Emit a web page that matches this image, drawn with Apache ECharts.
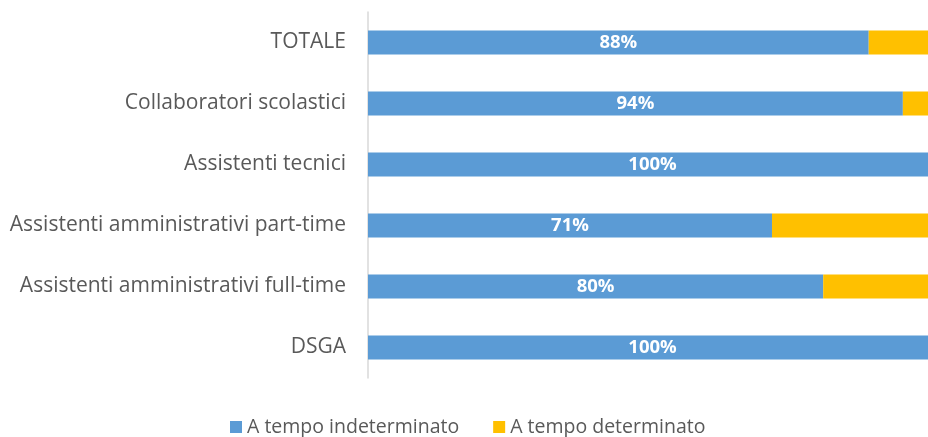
<!DOCTYPE html>
<html>
<head>
<meta charset="utf-8">
<script src="https://cdn.jsdelivr.net/npm/echarts@6/dist/echarts.min.js"></script>
<style>
  html, body { margin: 0; padding: 0; background: #fff; }
  #chart { width: 928px; height: 437px; }
</style>
</head>
<body>
<div id="chart"></div>
<script>
// categories bottom to top, as the y axis draws them
const categories = [
  'DSGA',
  'Assistenti amministrativi full-time',
  'Assistenti amministrativi part-time',
  'Assistenti tecnici',
  'Collaboratori scolastici',
  'TOTALE'
]
const indeterminato = [100, 80, 71, 100, 94, 88]
const determinato = [0, 20, 29, 0, 6, 12]

const myChart = echarts.init(document.getElementById('chart'))
myChart.setOption({
  animation: false,
  textStyle: { fontFamily: 'Open Sans' },
  legend: {
    bottom: -5,
    left: 225,
    itemGap: 34,
    itemWidth: 12,
    itemHeight: 12,
    icon: 'rect',
    textStyle: { fontSize: 19.5, color: '#595959', fontFamily: 'Open Sans' },
    data: ['A tempo indeterminato', 'A tempo determinato']
  },
  grid: {
    left: 368,
    top: 12,
    width: 569, // the plot runs a few px past the right edge, as in the original
    height: 366,
    outerBoundsMode: 'none'
  },
  xAxis: {
    type: 'value',
    min: 0,
    max: 100,
    show: false
  },
  yAxis: {
    type: 'category',
    data: categories,
    axisLine: { lineStyle: { color: '#d9d9d9', width: 1.5 } },
    axisTick: { show: false },
    axisLabel: { fontSize: 21, color: '#595959', margin: 22, fontFamily: 'Open Sans' }
  },
  series: [
    {
      name: 'A tempo indeterminato',
      type: 'bar',
      stack: 'tot',
      barWidth: 24,
      itemStyle: { color: '#5b9bd5' },
      label: {
        show: true,
        position: 'inside',
        formatter: '{c}%',
        color: '#fff',
        fontWeight: 'bold',
        fontSize: 18.5,
        fontFamily: 'Open Sans'
      },
      data: indeterminato
    },
    {
      name: 'A tempo determinato',
      type: 'bar',
      stack: 'tot',
      barWidth: 24,
      itemStyle: { color: '#ffc000' },
      data: determinato
    }
  ]
})
</script>
</body>
</html>
